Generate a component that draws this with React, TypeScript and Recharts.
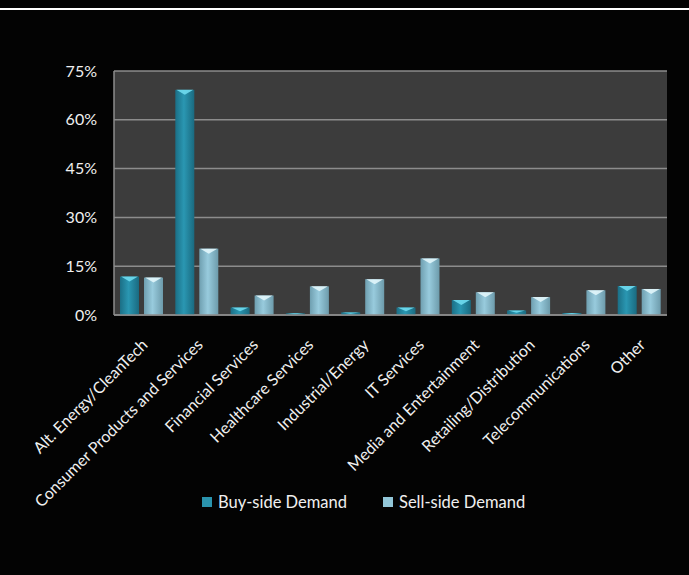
import React from "react";
import { BarChart, Bar, XAxis, YAxis, CartesianGrid, Legend } from "recharts";

const categories = [
  "Alt. Energy/CleanTech",
  "Consumer Products and Services",
  "Financial Services",
  "Healthcare Services",
  "Industrial/Energy",
  "IT Services",
  "Media and Entertainment",
  "Retailing/Distribution",
  "Telecommunications",
  "Other",
];
const buySide = [11.8, 69.2, 2.3, 0.5, 0.8, 2.3, 4.6, 1.4, 0.6, 8.9];
const sellSide = [11.5, 20.4, 6.0, 8.8, 11.0, 17.4, 7.0, 5.5, 7.6, 8.0];
const yTicks = [0, 15, 30, 45, 60, 75];

const data = categories.map((name, i) => ({ name, buy: buySide[i], sell: sellSide[i] }));

const FONT = "Lato, 'Open Sans', sans-serif";

const makeShape = (grad: string, cap: string) => (props: any) => {
  const { x, y, width, height } = props;
  if (!height || height <= 0) return null;
  const d = Math.min(5, height / 2);
  return (
    <g>
      <rect x={x} y={y} width={width} height={height} fill={`url(#${grad})`} />
      <polygon
        points={`${x + 1},${y} ${x + width - 1},${y} ${x + width / 2},${y + d}`}
        fill={cap}
        opacity={0.9}
      />
    </g>
  );
};

const XTick = (props: any) => {
  const { x, y, payload } = props;
  return (
    <text
      x={x + 3}
      y={y + 19}
      dy="0.35em"
      textAnchor="end"
      fill="#f0f0f0"
      fontSize={16}
      fontFamily={FONT}
      transform={`rotate(-45 ${x + 3} ${y + 19})`}
    >
      {payload.value}
    </text>
  );
};

const LegendBox = () => (
  <div
    style={{
      display: "flex",
      justifyContent: "flex-start",
      paddingLeft: 202,
      gap: 36,
      color: "#f0f0f0",
      fontFamily: FONT,
      fontSize: 16.5,
    }}
  >
    {[
      { label: "Buy-side Demand", color: "#2a93ad" },
      { label: "Sell-side Demand", color: "#92c6d8" },
    ].map((it) => (
      <div key={it.label} style={{ display: "flex", alignItems: "center" }}>
        <span style={{ width: 10, height: 10, background: it.color, marginRight: 6, display: "inline-block" }} />
        {it.label}
      </div>
    ))}
  </div>
);

export default function App() {
  return (
    <div style={{ position: "fixed", left: 0, top: 0, width: 689, height: 575, background: "#030303" }}>
      <div style={{ position: "absolute", left: 0, top: 8, width: 689, height: 2, background: "#ffffff" }} />
      <BarChart
        width={689}
        height={575}
        data={data}
        margin={{ top: 71, right: 22, left: 0, bottom: 0 }}
        barSize={19}
        barGap={5}
      >
        <defs>
          <linearGradient id="buyGrad" x1="0" y1="0" x2="1" y2="0">
            <stop offset="0%" stopColor="#1b6f86" />
            <stop offset="45%" stopColor="#2a97b2" />
            <stop offset="100%" stopColor="#1a6a80" />
          </linearGradient>
          <linearGradient id="sellGrad" x1="0" y1="0" x2="1" y2="0">
            <stop offset="0%" stopColor="#6f9fb0" />
            <stop offset="45%" stopColor="#98cbdd" />
            <stop offset="100%" stopColor="#6d9bab" />
          </linearGradient>
        </defs>
        <CartesianGrid vertical={false} stroke="#8c8c8c" strokeWidth={1.5} fill="#3c3c3c" />
        <XAxis
          dataKey="name"
          interval={0}
          height={240}
          tick={<XTick />}
          tickLine={false}
          axisLine={{ stroke: "#8c8c8c", strokeWidth: 1.5 }}
        />
        <YAxis
          width={114}
          domain={[0, 75]}
          ticks={yTicks}
          tickFormatter={(v) => `${v}%`}
          tickLine={false}
          tickSize={0}
          tickMargin={17}
          axisLine={{ stroke: "#8c8c8c", strokeWidth: 1.5 }}
          tick={{ fill: "#f0f0f0", fontSize: 16, fontFamily: FONT }}
        />
        <Legend content={<LegendBox />} wrapperStyle={{ top: 492, left: 0, width: 689 }} />
        <Bar dataKey="buy" name="Buy-side Demand" isAnimationActive={false} shape={makeShape("buyGrad", "#6fdcf0")} />
        <Bar dataKey="sell" name="Sell-side Demand" isAnimationActive={false} shape={makeShape("sellGrad", "#e2f6fb")} />
      </BarChart>
    </div>
  );
}
